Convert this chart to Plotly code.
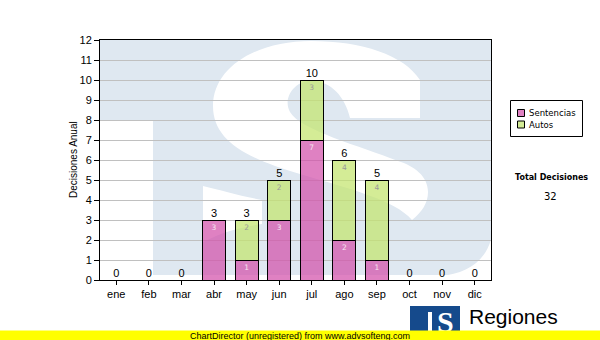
import plotly.graph_objects as go

# ---------------- data ----------------
months = ["ene", "feb", "mar", "abr", "may", "jun", "jul", "ago", "sep", "oct", "nov", "dic"]
sentencias = [0, 0, 0, 3, 1, 3, 7, 2, 1, 0, 0, 0]
autos = [0, 0, 0, 0, 2, 2, 3, 4, 4, 0, 0, 0]
series_names = ["Sentencias", "Autos"]
totals = [s + a for s, a in zip(sentencias, autos)]
y_max = 12
y_title = "Decisiones Anual"
total_title = "Total Decisiones"
total_value = sum(totals)

# ---------------- geometry helpers (pixel -> paper / data) ----------------
W, H = 600, 340
L, R, T, B = 100, 491, 40, 280  # plot area in pixels


def px(X):
    return (X - L) / (R - L)


def py(Y):
    return (B - Y) / (B - T)


def dx(X):
    return (X - L) / (R - L) * len(months) - 0.5


def dy(Y):
    return (B - Y) / (B - T) * y_max


def path(segs):
    out = []
    for s in segs:
        cmd = s[0]
        if cmd == "Z":
            out.append("Z")
            continue
        pts = " ".join(f"{dx(x):.4f},{dy(y):.4f}" for x, y in s[1:])
        out.append(f"{cmd} {pts}")
    return " ".join(out)


PINK = "rgba(210,80,170,0.72)"
GREEN = "rgba(195,228,110,0.72)"
PINK_SW = "#df81c2"
GREEN_SW = "#d3eb96"
WM = "#dfe8f1"

fig = go.Figure()

fig.add_trace(go.Bar(
    x=months, y=sentencias, name=series_names[0],
    marker=dict(color=PINK, line=dict(color="black", width=1)),
    text=[str(v) if v else "" for v in sentencias],
    textposition="inside", insidetextanchor="end", textangle=0,
    insidetextfont=dict(family="DejaVu Sans", size=7.5, color="#f6e4f0"),
    showlegend=False, hoverinfo="skip",
))
fig.add_trace(go.Bar(
    x=months, y=autos, name=series_names[1],
    marker=dict(color=GREEN, line=dict(color="black", width=1)),
    text=[str(v) if v else "" for v in autos],
    textposition="inside", insidetextanchor="end", textangle=0,
    insidetextfont=dict(family="DejaVu Sans", size=7.5, color="#9a9a9a"),
    showlegend=False, hoverinfo="skip",
))
fig.add_trace(go.Scatter(
    x=months, y=totals, mode="text", text=[str(t) for t in totals],
    textposition="top center", cliponaxis=False,
    textfont=dict(family="Liberation Sans, Arial", size=11, color="black"),
    showlegend=False, hoverinfo="skip",
))

shapes = []
# watermark "T" blocks
shapes.append(dict(type="rect", xref="x", yref="y", layer="below",
                   x0=dx(L - 5), x1=dx(R + 5), y0=dy(120), y1=dy(T - 5),
                   fillcolor=WM, line=dict(width=0)))
shapes.append(dict(type="rect", xref="x", yref="y", layer="below",
                   x0=dx(153), x1=dx(R + 5), y0=dy(275), y1=dy(119),
                   fillcolor=WM, line=dict(width=0)))
# watermark white S pieces
S_MAIN = [
    ("M", (420, 80)),
    ("C", (404, 55), (362, 41), (311, 41)),
    ("C", (255, 41), (213, 68), (213, 106)),
    ("C", (213, 140), (245, 158), (300, 174)),
    ("C", (350, 189), (395, 200), (412, 220)),
    ("C", (422, 212), (428, 203), (428, 192)),
    ("C", (428, 176), (414, 166), (398, 161)),
    ("C", (360, 146), (300, 130), (290, 112)),
    ("C", (283, 100), (292, 82), (310, 81)),
    ("C", (330, 80), (345, 96), (350, 118)),
    ("L", (420, 118)),
    ("Z",),
]
S_LL = [
    ("M", (203, 186)), ("L", (203, 242)),
    ("C", (215, 236), (232, 228), (262, 224)),
    ("L", (262, 200)),
    ("C", (240, 196), (220, 190), (203, 186)),
    ("Z",),
]
S_LR = [
    ("M", (440, 276)),
    ("C", (466, 274), (486, 262), (492, 236)),
    ("L", (495, 236)), ("L", (495, 282)), ("L", (440, 282)), ("Z",),
]
for segs in (S_MAIN, S_LL, S_LR):
    shapes.append(dict(type="path", xref="x", yref="y", layer="below",
                       path=path(segs), fillcolor="white", line=dict(width=0)))

# manual legend
shapes.append(dict(type="rect", xref="paper", yref="paper",
                   x0=px(510.5), x1=px(582.5), y0=py(136.5), y1=py(100.5),
                   fillcolor="white", line=dict(color="black", width=1)))
for i, col in enumerate([PINK_SW, GREEN_SW]):
    yc = 113 + 11.5 * i
    shapes.append(dict(type="rect", xref="paper", yref="paper",
                       x0=px(517.5), x1=px(524.5), y0=py(yc + 3.5), y1=py(yc - 3.5),
                       fillcolor=col, line=dict(color="black", width=1)))

# logo at bottom right
shapes.append(dict(type="rect", xref="paper", yref="paper", layer="above",
                   x0=px(410), x1=px(460), y0=py(334), y1=py(306),
                   fillcolor="#154a8c", line=dict(width=0)))
shapes.append(dict(type="rect", xref="paper", yref="paper", layer="above",
                   x0=px(428), x1=px(432), y0=py(334), y1=py(312),
                   fillcolor="white", line=dict(width=0)))

annotations = []
for i, name in enumerate(series_names):
    yc = 113 + 11.5 * i
    annotations.append(dict(xref="paper", yref="paper", x=px(527), y=py(yc),
                            xanchor="left", yanchor="middle", showarrow=False,
                            text=name, font=dict(family="DejaVu Sans", size=8.5, color="black")))
annotations.append(dict(xref="paper", yref="paper", x=px(551), y=py(177),
                        xanchor="center", yanchor="middle", showarrow=False,
                        text=f"<b>{total_title}</b>",
                        font=dict(family="DejaVu Sans", size=8, color="black")))
annotations.append(dict(xref="paper", yref="paper", x=px(550), y=py(196),
                        xanchor="center", yanchor="middle", showarrow=False,
                        text=str(total_value),
                        font=dict(family="DejaVu Sans", size=10, color="black")))
annotations.append(dict(xref="paper", yref="paper", x=px(73), y=py(160),
                        xanchor="center", yanchor="middle", showarrow=False, textangle=-90,
                        text=y_title, font=dict(family="Liberation Sans, Arial", size=10, color="black")))
annotations.append(dict(xref="paper", yref="paper", x=px(445), y=py(321),
                        xanchor="center", yanchor="middle", showarrow=False,
                        text="<b>S</b>", font=dict(family="Liberation Serif", size=30, color="white")))
annotations.append(dict(xref="paper", yref="paper", x=px(467), y=py(316),
                        xanchor="left", yanchor="middle", showarrow=False,
                        text="Regiones", font=dict(family="Liberation Sans, Arial", size=21, color="black")))
annotations.append(dict(xref="paper", yref="paper", x=px(468), y=py(335),
                        xanchor="left", yanchor="middle", showarrow=False,
                        text="Tribunal Supremo de Justicia",
                        font=dict(family="Liberation Sans, Arial", size=9, color="black")))
# unregistered banner (drawn last so it covers what is below)
annotations.append(dict(xref="paper", yref="paper", x=px(300), y=py(335.5),
                        xanchor="center", yanchor="middle", showarrow=False,
                        width=600, height=9, borderpad=0, bgcolor="#ffff00",
                        text="ChartDirector (unregistered) from www.advsofteng.com",
                        font=dict(family="Liberation Sans, Arial", size=9, color="black")))

fig.update_layout(
    width=W, height=H, autosize=False,
    margin=dict(l=L, r=W - R, t=T, b=H - B, pad=0),
    paper_bgcolor="white", plot_bgcolor="white",
    barmode="stack", bargap=0.29,
    showlegend=False,
    shapes=shapes, annotations=annotations,
    font=dict(family="Liberation Sans, Arial", size=11, color="black"),
    xaxis=dict(type="category", categoryorder="array", categoryarray=months,
               range=[-0.5, len(months) - 0.5], showgrid=False,
               showline=True, linecolor="black", linewidth=1, mirror=True,
               ticks="outside", ticklen=4, tickcolor="black",
               tickfont=dict(family="Liberation Sans, Arial", size=11, color="black"),
               fixedrange=True),
    yaxis=dict(range=[0, y_max], tickmode="array", tickvals=list(range(0, y_max + 1)),
               showgrid=True, gridcolor="#c0c0c0", gridwidth=1,
               showline=True, linecolor="black", linewidth=1, mirror=True,
               ticks="outside", ticklen=5, tickcolor="black", zeroline=False,
               tickfont=dict(family="Liberation Sans, Arial", size=11, color="black"),
               fixedrange=True),
)

fig.write_html("out.html")
